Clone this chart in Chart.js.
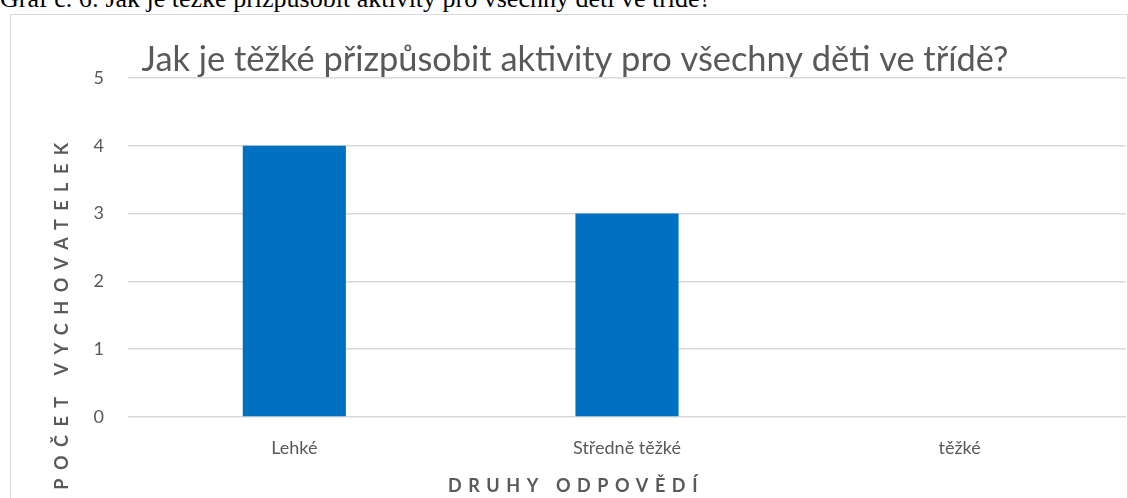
<!DOCTYPE html>
<html>
<head>
<meta charset="utf-8">
<script src="https://cdn.jsdelivr.net/npm/chart.js@4.4.1/dist/chart.umd.min.js"></script>
<style>
  body { margin: 0; background: #fff; width: 1128px; height: 498px; overflow: hidden; position: relative; }
  #caption { position: absolute; left: 0; top: -14px; font: 26px "Liberation Serif", serif; line-height: 26px; color: #000; white-space: nowrap; }
  #box { position: absolute; left: 10px; top: 14px; width: 1116px; height: 500px; border: 1px solid #d9d9d9; }
  #box canvas { position: absolute; left: 0; top: 0; }
</style>
</head>
<body>
<div id="caption">Graf č. 6: Jak je těžké přizpůsobit aktivity pro všechny děti ve třídě?</div>
<div id="box"><canvas id="chart-vychovatelky" width="1116" height="483"></canvas></div>
<script>
// Graf c. 6 - data
const kategorie = ['Lehké', 'Středně těžké', 'těžké'];
const pocty = [4, 3, 0];
const osaY = [0, 1, 2, 3, 4, 5];

const nadpis = 'Jak je těžké přizpůsobit aktivity pro všechny děti ve třídě?';
const titulekX = 'DRUHY ODPOVĚDÍ';
const titulekY = 'POČET VYCHOVATELEK';

const seda = '#595959';

// titles drawn by hand so they sit where Excel put them
const popisky = {
  id: 'popisky',
  afterDraw(chart) {
    const ctx = chart.ctx;
    ctx.save();
    ctx.fillStyle = seda;
    ctx.textAlign = 'center';
    ctx.textBaseline = 'alphabetic';

    ctx.font = '34.4px Lato';
    ctx.fillText(nadpis, 564, 56);

    ctx.font = 'bold 18px Lato';
    ctx.letterSpacing = '6.6px';
    ctx.fillText(titulekX, 565, 477);

    ctx.letterSpacing = '8.5px';
    ctx.translate(57, 297);
    ctx.rotate(-Math.PI / 2);
    ctx.fillText(titulekY, 0, 0);
    ctx.restore();
  }
};

new Chart(document.getElementById('chart-vychovatelky'), {
  type: 'bar',
  data: {
    labels: kategorie,
    datasets: [{
      data: pocty,
      backgroundColor: '#0070C0',
      borderWidth: 0,
      categoryPercentage: 1,
      barPercentage: 0.31
    }]
  },
  options: {
    responsive: false,
    animation: false,
    layout: { padding: { top: 63, right: 1, left: 0, bottom: 0 } },
    plugins: { legend: { display: false }, title: { display: false }, tooltip: { enabled: false } },
    scales: {
      x: {
        grid: { display: false },
        border: { display: false },
        ticks: { color: seda, font: { family: 'Lato', size: 18 }, padding: 12 },
        afterFit(scale) { scale.height = 81; }
      },
      y: {
        min: 0,
        max: 5,
        afterBuildTicks(scale) { scale.ticks = osaY.map(v => ({ value: v })); },
        grid: { color: '#d9d9d9', lineWidth: 1.5, drawTicks: false },
        border: { display: false },
        ticks: { color: seda, font: { family: 'Lato', size: 18 }, padding: 24 },
        afterFit(scale) { scale.width = 117; }
      }
    }
  },
  plugins: [popisky]
});
</script>
</body>
</html>
